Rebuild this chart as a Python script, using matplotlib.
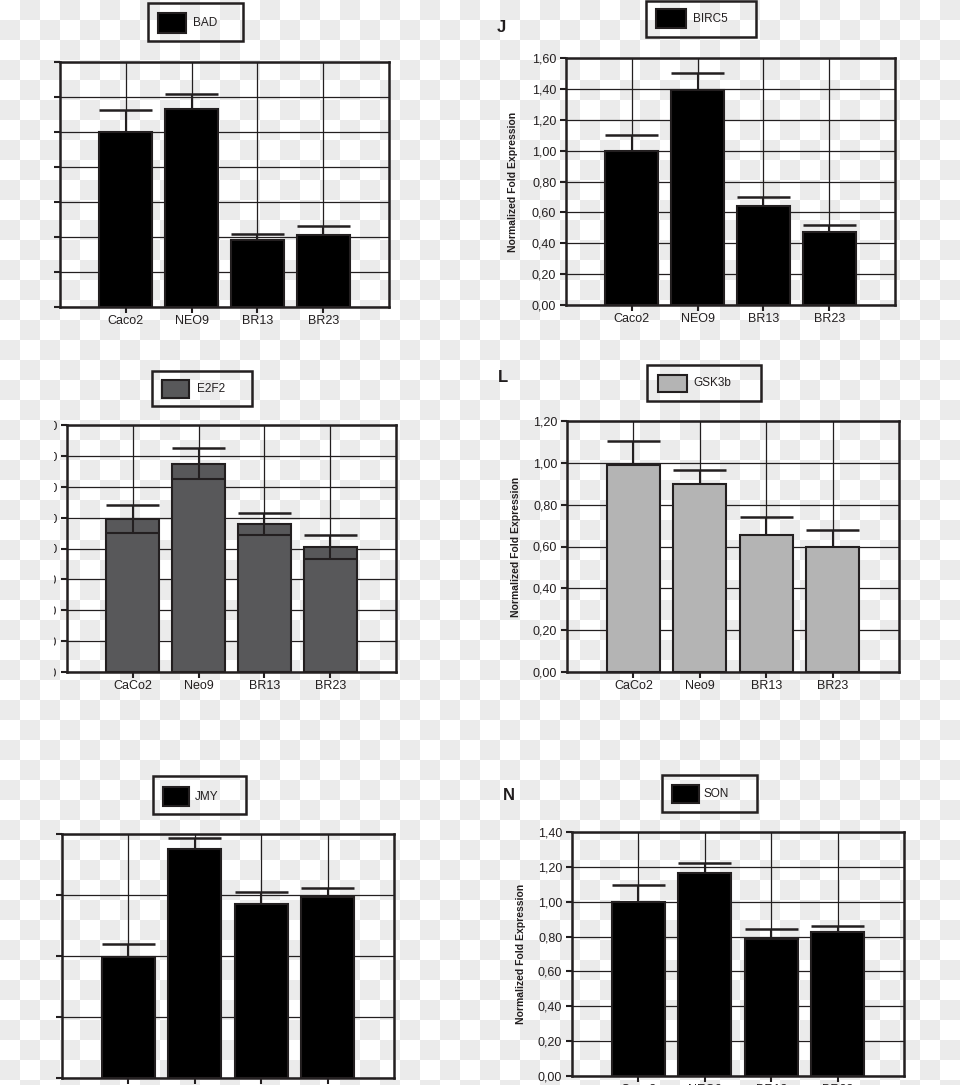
import numpy as np
import matplotlib
matplotlib.use("Agg")
import matplotlib.pyplot as plt
from matplotlib.patches import Rectangle
from matplotlib.transforms import Bbox, TransformedBbox

plt.rcParams['font.family'] = ['Liberation Sans', 'DejaVu Sans']

# values (normalized fold expression, mean and upper error)
cats_upper = ['Caco2', 'NEO9', 'BR13', 'BR23']
cats_mixed = ['CaCo2', 'Neo9', 'BR13', 'BR23']

bad_mean = [1.00, 1.13, 0.385, 0.41]
bad_err = [0.125, 0.09, 0.035, 0.055]
birc5_mean = [1.00, 1.39, 0.64, 0.47]
birc5_err = [0.10, 0.11, 0.06, 0.045]
e2f2_mean = [0.99, 1.35, 0.96, 0.81]
e2f2_err = [0.09, 0.10, 0.07, 0.075]
gsk3b_mean = [0.99, 0.90, 0.655, 0.60]
gsk3b_err = [0.115, 0.065, 0.085, 0.08]
jmy_mean = [0.99, 1.88, 1.43, 1.48]
jmy_err = [0.11, 0.09, 0.095, 0.08]
son_mean = [1.00, 1.165, 0.785, 0.825]
son_err = [0.095, 0.057, 0.057, 0.036]

ink = '#231f20'
W, H = 960, 1085

fig = plt.figure(figsize=(9.6, 10.85), dpi=100)

# transparent-png checkerboard behind everything
yy, xx = np.mgrid[0:H, 0:W]
checker = np.where((xx // 20 + yy // 20) % 2 == 1, 0.925, 1.0)
fig.figimage(np.dstack([checker] * 3), xo=0, yo=0, origin='upper', zorder=-10)


def fx(x):
    return x / W


def fy(y):
    return 1 - y / H


def rect(box, **kw):
    l, t, r, b = box
    fig.add_artist(Rectangle((fx(l), fy(b)), (r - l) / W, (b - t) / H,
                             transform=fig.transFigure, **kw))


def panel(box, gene, cats, mean, err, color, ymax, ystep, leg_box, leg_patch, leg_text_x,
          letter=None, ylabel_x=None, show_ylabels=True, show_xlabels=True,
          lower_err=False, clip_x=None):
    l, t, r, b = box
    ax = fig.add_axes([fx(l), fy(b), (r - l) / W, (b - t) / H])
    ax.patch.set_visible(False)
    x = np.arange(len(cats))
    mean = np.array(mean)
    err = np.array(err)
    ax.bar(x, mean, width=0.8, color=color, edgecolor=ink, linewidth=1.5, zorder=2)
    top = mean + err
    low = mean - err if lower_err else mean
    ax.vlines(x, low, top, color=ink, lw=1.5, zorder=3)
    ax.hlines(top, x - 0.4, x + 0.4, color=ink, lw=1.8, zorder=3)
    if lower_err:
        ax.hlines(low, x - 0.4, x + 0.4, color=ink, lw=1.5, zorder=3)

    ax.set_xlim(-1, 4)
    ax.set_ylim(0, ymax)
    ticks = np.round(np.arange(0, ymax + ystep / 2, ystep), 2)
    ax.set_yticks(ticks)
    ax.set_yticklabels([f'{v:.2f}'.replace('.', ',') for v in ticks])
    ax.set_xticks(x)
    ax.set_xticklabels(cats)
    ax.grid(True, color=ink, lw=0.9)
    ax.set_axisbelow(True)
    for s in ax.spines.values():
        s.set_linewidth(1.8)
        s.set_color(ink)
    ax.tick_params(axis='both', direction='out', length=4.5, width=1.5, color=ink,
                   labelsize=9, labelcolor=ink)
    ax.tick_params(axis='y', pad=2.5, labelleft=show_ylabels)
    ax.tick_params(axis='x', pad=1, labelbottom=show_xlabels)
    if clip_x is not None:
        cb = TransformedBbox(Bbox([[clip_x / W, 0], [1, 1]]), fig.transFigure)
        for lbl in ax.get_yticklabels():
            lbl.set_clip_box(cb)
            lbl.set_clip_on(True)

    # legend box above the plot
    rect(leg_box, fill=False, ec=ink, lw=1.8)
    rect(leg_patch, fc=color, ec=ink, lw=1.5)
    fig.text(fx(leg_text_x), fy((leg_patch[1] + leg_patch[3]) / 2), gene,
             fontsize=8.5, color=ink, ha='left', va='center')

    if letter:
        fig.text(fx(letter[1]), fy(letter[2]), letter[0], fontsize=12,
                 fontweight='bold', color=ink, ha='left', va='center')
    if ylabel_x is not None:
        fig.text(fx(ylabel_x), fy((t + b) / 2), 'Normalized Fold Expression',
                 rotation=90, fontsize=7.5, fontweight='bold', color=ink,
                 ha='center', va='center')
    return ax


panel((60, 62, 389, 307), 'BAD', cats_upper, bad_mean, bad_err, '#000000', 1.4, 0.2,
      (148, 3, 243, 41), (158, 13, 186, 33), 193, show_ylabels=False)

panel((566, 58, 895, 305), 'BIRC5', cats_upper, birc5_mean, birc5_err, '#000000', 1.6, 0.2,
      (646, 1, 756, 37), (656, 9, 686, 28), 693, letter=('J', 497, 27), ylabel_x=513)

panel((67, 425, 396, 672), 'E2F2', cats_mixed, e2f2_mean, e2f2_err, '#58585a', 1.6, 0.2,
      (152, 371, 252, 406), (162, 380, 189, 398), 197, lower_err=True, clip_x=54)

panel((567, 421, 899, 672), 'GSK3b', cats_mixed, gsk3b_mean, gsk3b_err, '#b4b4b4', 1.2, 0.2,
      (647, 365, 761, 401), (658, 375, 687, 392), 693, letter=('L', 498, 378), ylabel_x=516)

panel((62, 834, 394, 1078), 'JMY', cats_upper, jmy_mean, jmy_err, '#000000', 2.0, 0.5,
      (153, 776, 246, 814), (163, 787, 189, 806), 195, show_ylabels=False, show_xlabels=False)

panel((572, 832, 904, 1076), 'SON', cats_upper, son_mean, son_err, '#000000', 1.4, 0.2,
      (662, 775, 757, 812), (672, 785, 699, 803), 704, letter=('N', 503, 795), ylabel_x=521)

fig.savefig('out.png', dpi=100)
